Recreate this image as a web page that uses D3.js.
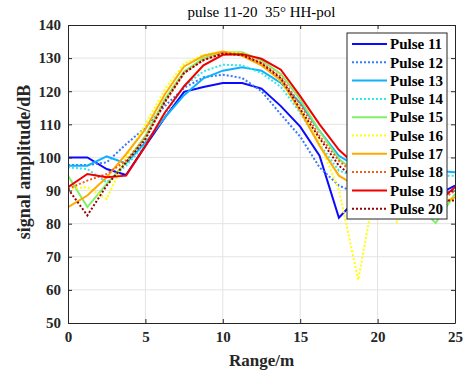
<!DOCTYPE html>
<html lang="en">
<head>
    <meta charset="UTF-8">
    <title>pulse 11-20</title>
    <script src="https://cdn.jsdelivr.net/npm/d3@7/dist/d3.min.js"></script>
    <style>
        body { margin: 0; background: #fff; }
        text { font-family: "Liberation Serif", "Times New Roman", serif; }
    </style>
</head>
<body>
    <script>
        // size of the picture
        var w = 474;
        var h = 374;
        var margin = {top: 25, right: 19, bottom: 51, left: 68};

        // range samples (m)
        var range = [0, 1.25, 2.5, 3.75, 5, 6.25, 7.5, 8.75, 10, 11.25, 12.5,
                     13.75, 15, 16.25, 17.5, 18.75, 20, 21.25, 22.5, 23.75, 25];

        // signal amplitude (dB) for each pulse
        var pulse11 = [100, 100, 96.5, 94.7, 103.5, 112, 119.8, 121.3, 122.5, 122.5, 120.8,
                       115.5, 109.3, 100.5, 81.8, 88, 89, 90, 89, 88.5, 91.5];
        var pulse12 = [97.7, 97.7, 98.5, 104, 109, 115.5, 121, 124.2, 125, 124, 120,
                       113, 106.3, 97, 91.5, 89, 88, 88, 88.5, 89, 90];
        var pulse13 = [97.5, 97.5, 100.3, 98.2, 104.5, 112, 118.8, 123.9, 126.2, 127.2, 126.2,
                       122.5, 116.5, 108, 100.5, 97, 96.5, 96, 96, 96, 95.5];
        var pulse14 = [97, 96.5, 92.5, 97.5, 104, 113, 121.5, 126, 128, 127.8, 125.5,
                       121.3, 113.5, 104, 96, 94, 94, 95, 95, 94.5, 94.5];
        var pulse15 = [94.5, 85, 92, 98.5, 106.5, 117.5, 126, 130, 131.8, 131.8, 129.3,
                       125.2, 117.5, 108, 99.5, 95, 90, 88, 86, 80.2, 89];
        var pulse16 = [90.5, 91, 87.5, 100, 110, 120.5, 128.4, 131, 132, 131.5, 128,
                       123, 114.5, 104.5, 90.2, 63, 95, 80.6, 88, 86, 88];
        var pulse17 = [85, 88.5, 94, 101, 108.5, 119, 127.5, 130.7, 132, 130.7, 127.8,
                       123.3, 114, 103.5, 94.5, 91, 90, 87, 86, 85, 88];
        var pulse18 = [90.5, 93, 95, 99, 106, 116.5, 125.5, 129.4, 131.5, 131, 128.6,
                       124.3, 116, 106.5, 99, 94, 92, 89, 88, 86, 90];
        var pulse19 = [91, 95, 94, 94.5, 103.5, 113.5, 121.5, 127.8, 131, 131.2, 129.8,
                       126.5, 118.5, 110, 102.3, 97, 94, 90, 88, 86, 91];
        var pulse20 = [90.5, 82.5, 91.5, 98.5, 105.5, 116.8, 125.5, 129.4, 131.4, 130.9, 128.4,
                       123.9, 114.6, 105.8, 97.5, 93, 91, 89, 88, 87, 87];

        var names = ["Pulse 11", "Pulse 12", "Pulse 13", "Pulse 14", "Pulse 15",
                     "Pulse 16", "Pulse 17", "Pulse 18", "Pulse 19", "Pulse 20"];
        var xTicks = [0, 5, 10, 15, 20, 25];
        var yTicks = [50, 60, 70, 80, 90, 100, 110, 120, 130, 140];

        // line styles
        var colors = ["#0a0aff", "#3a78ff", "#10b0ff", "#30e8e8", "#80f068",
                      "#ffff00", "#ffaa00", "#ff5a1e", "#f00000", "#990000"];
        var dotted = [false, true, false, true, false, true, false, true, false, true];

        var series = [pulse11, pulse12, pulse13, pulse14, pulse15,
                      pulse16, pulse17, pulse18, pulse19, pulse20].map(function(vals, i) {
            return {
                name: names[i],
                color: colors[i],
                dotted: dotted[i],
                points: vals.map(function(v, j) { return [range[j], v]; })
            };
        });

        var iw = w - margin.left - margin.right;
        var ih = h - margin.top - margin.bottom;

        var x = d3.scaleLinear().domain([0, 25]).range([0, iw]);
        var y = d3.scaleLinear().domain([50, 140]).range([ih, 0]);

        var svg = d3.select("body")
                    .append("svg")
                    .attr("width", w)
                    .attr("height", h);

        var g = svg.append("g")
                   .attr("transform", "translate(" + margin.left + "," + margin.top + ")");

        // grid
        g.append("g")
            .selectAll("line.vg")
            .data(xTicks.slice(1, -1))
            .enter()
            .append("line")
            .attr("x1", function(d) { return x(d); })
            .attr("x2", function(d) { return x(d); })
            .attr("y1", 0)
            .attr("y2", ih)
            .attr("stroke", "#e3e3e3")
            .attr("stroke-width", 1);
        g.append("g")
            .selectAll("line.hg")
            .data(yTicks.slice(1, -1))
            .enter()
            .append("line")
            .attr("x1", 0)
            .attr("x2", iw)
            .attr("y1", function(d) { return y(d); })
            .attr("y2", function(d) { return y(d); })
            .attr("stroke", "#e3e3e3")
            .attr("stroke-width", 1);

        // clip lines to the plot box
        svg.append("clipPath")
            .attr("id", "plotclip")
            .append("rect")
            .attr("width", iw)
            .attr("height", ih);

        var line = d3.line()
                     .x(function(d) { return x(d[0]); })
                     .y(function(d) { return y(d[1]); });

        g.append("g")
            .attr("clip-path", "url(#plotclip)")
            .selectAll("path")
            .data(series)
            .enter()
            .append("path")
            .attr("d", function(d) { return line(d.points); })
            .attr("fill", "none")
            .attr("stroke", function(d) { return d.color; })
            .attr("stroke-width", 2)
            .attr("stroke-dasharray", function(d) { return d.dotted ? "2,2" : null; });

        // axes (ticks inside, on all four sides)
        var tickStyle = function(sel) {
            sel.select(".domain").attr("stroke", "#262626");
            sel.selectAll(".tick line").attr("stroke", "#262626");
            sel.selectAll("text")
               .attr("font-family", "'Liberation Serif', 'Times New Roman', serif")
               .attr("font-weight", "bold")
               .attr("font-size", "15px")
               .attr("fill", "#262626");
        };

        g.append("g")
            .attr("transform", "translate(0," + ih + ")")
            .call(d3.axisBottom(x).tickValues(xTicks).tickSizeInner(-4).tickSizeOuter(0).tickPadding(8))
            .call(tickStyle);
        g.append("g")
            .call(d3.axisLeft(y).tickValues(yTicks).tickSizeInner(-4).tickSizeOuter(0).tickPadding(7))
            .call(tickStyle);
        g.append("g")
            .call(d3.axisTop(x).tickValues(xTicks).tickSizeInner(-4).tickSizeOuter(0).tickFormat(""))
            .call(tickStyle);
        g.append("g")
            .attr("transform", "translate(" + iw + ",0)")
            .call(d3.axisRight(y).tickValues(yTicks).tickSizeInner(-4).tickSizeOuter(0).tickFormat(""))
            .call(tickStyle);

        // title and axis labels
        svg.append("text")
            .attr("x", margin.left + iw / 2)
            .attr("y", 17)
            .attr("text-anchor", "middle")
            .attr("font-size", "15px")
            .attr("fill", "#000")
            .text("pulse 11-20  35\u00b0 HH-pol")
            .style("white-space", "pre");

        svg.append("text")
            .attr("x", margin.left + iw / 2)
            .attr("y", 366)
            .attr("text-anchor", "middle")
            .attr("font-size", "17px")
            .attr("font-weight", "bold")
            .attr("fill", "#262626")
            .text("Range/m");

        svg.append("text")
            .attr("transform", "translate(30," + (margin.top + ih / 2 - 12) + ") rotate(-90)")
            .attr("text-anchor", "middle")
            .attr("font-size", "18px")
            .attr("font-weight", "bold")
            .attr("fill", "#262626")
            .text("signal amplitude/dB");

        // legend
        var lg = svg.append("g").attr("transform", "translate(347,33)");
        lg.append("rect")
            .attr("width", 100)
            .attr("height", 186)
            .attr("fill", "#fff")
            .attr("stroke", "#262626")
            .attr("stroke-width", 1);

        var items = lg.selectAll("g.item")
                      .data(series)
                      .enter()
                      .append("g")
                      .attr("class", "item")
                      .attr("transform", function(d, i) { return "translate(0," + (11 + i * 18.3) + ")"; });
        items.append("line")
            .attr("x1", 5)
            .attr("x2", 40)
            .attr("stroke", function(d) { return d.color; })
            .attr("stroke-width", 2)
            .attr("stroke-dasharray", function(d) { return d.dotted ? "2,2" : null; });
        items.append("text")
            .attr("x", 43)
            .attr("dy", "0.35em")
            .attr("font-size", "15px")
            .attr("font-weight", "bold")
            .attr("fill", "#000")
            .text(function(d) { return d.name; });
    </script>
</body>
</html>
